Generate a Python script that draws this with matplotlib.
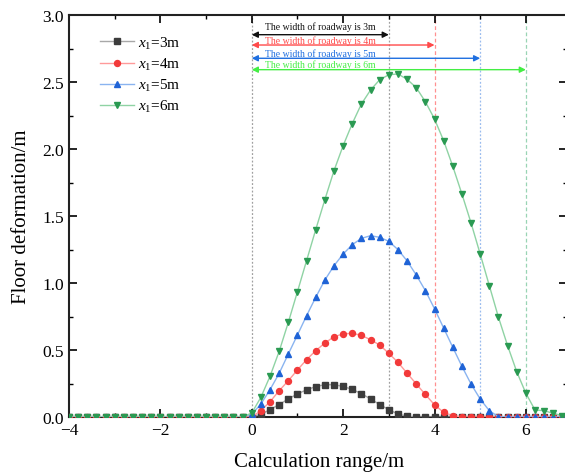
import matplotlib
matplotlib.use("Agg")
import matplotlib.pyplot as plt
from matplotlib.ticker import MultipleLocator

plt.rcParams['font.family'] = ['Liberation Serif', 'DejaVu Serif']
plt.rcParams['mathtext.fontset'] = 'custom'
plt.rcParams['mathtext.rm'] = 'Liberation Serif'
plt.rcParams['mathtext.it'] = 'Liberation Serif:italic'

# calculation range (m), sampled every 0.2 m
x_range = [-4.0, -3.8, -3.6, -3.4, -3.2, -3.0, -2.8, -2.6, -2.4, -2.2,
           -2.0, -1.8, -1.6, -1.4, -1.2, -1.0, -0.8, -0.6, -0.4, -0.2,
           0.0, 0.2, 0.4, 0.6, 0.8, 1.0, 1.2, 1.4, 1.6, 1.8,
           2.0, 2.2, 2.4, 2.6, 2.8, 3.0, 3.2, 3.4, 3.6, 3.8,
           4.0, 4.2, 4.4, 4.6, 4.8, 5.0, 5.2, 5.4, 5.6, 5.8,
           6.0, 6.2, 6.4, 6.6, 6.8]

zeros_left = [0.0] * 20

# floor deformation (m) from x = 0 onwards
def_3m = [0.0, 0.02, 0.055, 0.093, 0.135, 0.172, 0.203, 0.227, 0.241, 0.241,
          0.228, 0.206, 0.174, 0.135, 0.093, 0.055, 0.022, 0.005, 0.0, 0.0,
          0.0, 0.0, 0.0, 0.0, 0.0, 0.0, 0.0, 0.0, 0.0, 0.0,
          0.0, 0.0, 0.0, 0.0, 0.0]
def_4m = [0.0, 0.047, 0.114, 0.196, 0.271, 0.351, 0.428, 0.495, 0.552, 0.599,
          0.620, 0.625, 0.609, 0.577, 0.537, 0.475, 0.408, 0.327, 0.247, 0.168,
          0.091, 0.035, 0.01, 0.0, 0.0, 0.0, 0.0, 0.0, 0.0, 0.0,
          0.0, 0.0, 0.0, 0.0, 0.0]
def_5m = [0.02, 0.097, 0.204, 0.326, 0.47, 0.612, 0.756, 0.893, 1.022, 1.129,
          1.216, 1.286, 1.333, 1.353, 1.341, 1.311, 1.249, 1.165, 1.06, 0.943,
          0.808, 0.664, 0.52, 0.378, 0.246, 0.134, 0.047, 0.002, 0.0, 0.0,
          0.0, 0.0, 0.0, 0.0, 0.0]
def_6m = [0.03, 0.147, 0.304, 0.49, 0.706, 0.935, 1.167, 1.398, 1.622, 1.838,
          2.025, 2.19, 2.336, 2.44, 2.517, 2.554, 2.56, 2.52, 2.458, 2.353,
          2.224, 2.062, 1.871, 1.664, 1.448, 1.216, 0.98, 0.744, 0.532, 0.338,
          0.177, 0.052, 0.047, 0.027, 0.01]

labels = [r'$x_1$=3m', r'$x_1$=4m', r'$x_1$=5m', r'$x_1$=6m']
widths = [3, 4, 5, 6]
width_text = ['The width of roadway is 3m', 'The width of roadway is 4m',
              'The width of roadway is 5m', 'The width of roadway is 6m']

fig = plt.figure(figsize=(5.65, 4.77), dpi=100)
ax = fig.add_axes([69 / 565, 1 - 418 / 477, 498 / 565, 402 / 477])

series = [def_3m, def_4m, def_5m, def_6m]
markers = ['s', 'o', '^', 'v']
marker_colors = ['#3c3c3c', '#f23a3a', '#1f63d6', '#2a9a52']
line_colors = ['#a8a8a8', '#ff9a9a', '#8ab4f0', '#8fd3a4']

for vals, mk, mc, lc, lab in zip(series, markers, marker_colors, line_colors, labels):
    ax.plot(x_range, zeros_left + vals, color=lc, lw=1.0, marker=mk, ms=4.3,
            markerfacecolor=mc, markeredgecolor=mc, label=lab, zorder=3)

# roadway boundaries
vline_colors = ['#a0a0a0', '#a0a0a0', '#ff9090', '#99bbee', '#99d4b4']
vline_styles = [(0, (1.5, 1.5)), (0, (1.5, 1.5)), (0, (3, 2)),
                (0, (1.5, 1.5)), (0, (3, 2))]
for xv, c, ls in zip([0] + widths, vline_colors, vline_styles):
    ax.axvline(xv, color=c, ls=ls, lw=0.9, zorder=1)

arrow_colors = ['#111111', '#ff4a4a', '#1f6fe0', '#44ee44']
arrow_y = [2.853, 2.776, 2.677, 2.592]
text_y = [2.92, 2.81, 2.715, 2.635]
for w, txt, c, ay, ty in zip(widths, width_text, arrow_colors, arrow_y, text_y):
    ax.annotate('', xy=(0, ay), xytext=(w, ay),
                arrowprops=dict(arrowstyle='<|-|>', color=c, lw=1.0,
                                mutation_scale=9, shrinkA=0, shrinkB=0))
    ax.text(1.5, ty, txt, color=c, fontsize=7, ha='center', va='center')

ax.set_xlim(-4, 6.9)
ax.set_ylim(0, 3.0)
ax.xaxis.set_major_locator(MultipleLocator(2))
ax.xaxis.set_minor_locator(MultipleLocator(1))
ax.yaxis.set_major_locator(MultipleLocator(0.5))
ax.yaxis.set_minor_locator(MultipleLocator(0.25))
ax.tick_params(which='both', direction='in', top=True, right=True, labelsize=12.5)
ax.tick_params(which='major', length=6, width=1.2)
ax.tick_params(which='minor', length=3, width=1.0)
for s in ax.spines.values():
    s.set_linewidth(1.5)
    s.set_color('#222222')

ax.set_xlabel('Calculation range/m', fontsize=15)
ax.set_ylabel('Floor deformation/m', fontsize=15)
ax.xaxis.set_label_coords(0.502, -0.086)
ax.yaxis.set_label_coords(-0.076, 0.5)

ax.legend(loc='upper left', bbox_to_anchor=(0.035, 0.985), frameon=False,
          fontsize=11, handlelength=2.2, handletextpad=0.3, labelspacing=0.33)

fig.savefig('out.png', dpi=100)
